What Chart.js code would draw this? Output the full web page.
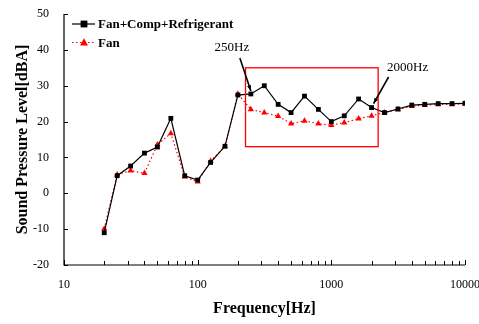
<!DOCTYPE html>
<html>
<head>
<meta charset="utf-8">
<script src="https://cdn.jsdelivr.net/npm/chart.js@4/dist/chart.umd.min.js"></script>
<style>
  html, body { margin: 0; padding: 0; background: #fff; }
  #wrap { width: 479px; height: 324px; }
</style>
</head>
<body>
<div id="wrap"><canvas id="spl"></canvas></div>
<script>
// 1/3 octave band centre frequencies [Hz]
const freqs = [20, 25, 31.5, 40, 50, 63, 80, 100, 125, 160, 200, 250, 315, 400, 500,
               630, 800, 1000, 1250, 1600, 2000, 2500, 3150, 4000, 5000, 6300, 8000, 10000];
// sound pressure level [dBA]
const totalSpl = [-11.0, 4.9, 7.6, 11.2, 12.9, 20.9, 4.9, 3.7, 8.6, 13.1, 27.4, 27.7, 30.0, 24.8, 22.5,
                  27.1, 23.4, 20.0, 21.6, 26.3, 23.9, 22.5, 23.5, 24.6, 24.8, 25.0, 25.0, 25.1];
const fanSpl = [-9.9, 5.2, 6.3, 5.6, 13.6, 16.7, 4.6, 3.2, 9.0, 13.1, 27.7, 23.4, 22.5, 21.5, 19.4,
                20.2, 19.4, 19.0, 19.7, 20.8, 21.6, 22.5, 23.4, 24.3, 24.6, 24.8, 24.8, 25.0];
const seriesNames = ['Fan+Comp+Refrigerant', 'Fan'];
const yTicks = [-20, -10, 0, 10, 20, 30, 40, 50];

// highlighted band (data units) and the two callouts
const bandBox = { xMin: 228, xMax: 2240, yMin: 13, yMax: 35 };
const callouts = [
  { text: '250Hz', freq: 250 },
  { text: '2000Hz', freq: 2000 }
];

const FONT = '"Liberation Serif", "Times New Roman", serif';

function toPoints(ys) {
  return freqs.map((f, i) => ({ x: f, y: ys[i] }));
}

// draws the inside tick marks, axis lines, legend and annotations
const decorPlugin = {
  id: 'decor',
  afterDatasetsDraw(chart) {
    const ctx = chart.ctx;
    const xs = chart.scales.x, ys = chart.scales.y;
    const area = chart.chartArea;
    ctx.save();

    // band rectangle
    const bx1 = xs.getPixelForValue(bandBox.xMin), bx2 = xs.getPixelForValue(bandBox.xMax);
    const by1 = ys.getPixelForValue(bandBox.yMax), by2 = ys.getPixelForValue(bandBox.yMin);
    ctx.strokeStyle = '#ff0000';
    ctx.lineWidth = 1.3;
    ctx.strokeRect(bx1, by1, bx2 - bx1, by2 - by1);

    // callouts pointing at the total-level curve
    ctx.fillStyle = '#000';
    ctx.strokeStyle = '#000';
    ctx.font = '13px ' + FONT;
    ctx.textAlign = 'center';
    ctx.textBaseline = 'middle';
    callouts.forEach((c, idx) => {
      const i = freqs.indexOf(c.freq);
      const px = xs.getPixelForValue(c.freq);
      const py = ys.getPixelForValue(totalSpl[i]);
      let tx, ty, hx, hy;
      if (idx === 0) {
        ctx.fillText(c.text, px - 19, 48);
        tx = px - 11; ty = 58; hx = px; hy = py - 3;
      } else {
        ctx.fillText(c.text, px + 36, 68);
        tx = px + 17; ty = 77; hx = px + 2; hy = py - 4;
      }
      ctx.lineWidth = 1.6;
      ctx.beginPath();
      ctx.moveTo(tx, ty);
      ctx.lineTo(hx, hy);
      ctx.stroke();
      // arrow head
      const ang = Math.atan2(hy - ty, hx - tx);
      ctx.beginPath();
      ctx.moveTo(hx, hy);
      ctx.lineTo(hx - 6 * Math.cos(ang - 0.35), hy - 6 * Math.sin(ang - 0.35));
      ctx.lineTo(hx - 6 * Math.cos(ang + 0.35), hy - 6 * Math.sin(ang + 0.35));
      ctx.closePath();
      ctx.fill();
    });

    // axis lines
    ctx.strokeStyle = '#000';
    ctx.lineWidth = 1.2;
    ctx.beginPath();
    ctx.moveTo(area.left, area.top);
    ctx.lineTo(area.left, area.bottom);
    ctx.lineTo(area.right, area.bottom);
    ctx.stroke();

    // inside ticks
    ctx.lineWidth = 1;
    ctx.beginPath();
    yTicks.forEach(v => {
      const y = Math.round(ys.getPixelForValue(v)) + 0.5;
      ctx.moveTo(area.left, y);
      ctx.lineTo(area.left + 4, y);
    });
    xs.ticks.forEach(t => {
      const x = Math.round(xs.getPixelForValue(t.value)) + 0.5;
      const major = Math.abs(Math.log10(t.value) % 1) < 1e-9;
      ctx.moveTo(x, area.bottom);
      ctx.lineTo(x, area.bottom - (major ? 5 : 4));
    });
    ctx.stroke();

    // legend
    ctx.font = 'bold 13px ' + FONT;
    ctx.textAlign = 'left';
    ctx.textBaseline = 'middle';
    chart.data.datasets.forEach((ds, i) => {
      const y = 24 + i * 18.5;
      ctx.strokeStyle = ds.borderColor;
      ctx.lineWidth = ds.borderWidth;
      ctx.setLineDash(ds.borderDash || []);
      ctx.beginPath();
      ctx.moveTo(72, y);
      ctx.lineTo(95, y);
      ctx.stroke();
      ctx.setLineDash([]);
      drawMarker(ctx, ds.pointStyle, 84, y, ds.pointRadius, ds.pointBackgroundColor);
      ctx.fillStyle = '#000';
      ctx.fillText(ds.label, 98, y + 1);
    });
    ctx.restore();
  }
};

function drawMarker(ctx, style, x, y, r, color) {
  ctx.fillStyle = color;
  ctx.beginPath();
  if (style === 'rect') {
    ctx.rect(x - r, y - r, 2 * r, 2 * r);
  } else {
    ctx.moveTo(x, y - r * 1.2);
    ctx.lineTo(x + r * 1.1, y + r * 0.8);
    ctx.lineTo(x - r * 1.1, y + r * 0.8);
    ctx.closePath();
  }
  ctx.fill();
}

new Chart(document.getElementById('spl'), {
  type: 'line',
  data: {
    datasets: [
      {
        label: seriesNames[0],
        data: toPoints(totalSpl),
        borderColor: '#000',
        borderWidth: 1.2,
        pointStyle: 'rect',
        pointRadius: 3.4,
        pointBackgroundColor: '#000',
        pointBorderColor: '#000',
        pointBorderWidth: 0,
        tension: 0
      },
      {
        label: seriesNames[1],
        data: toPoints(fanSpl),
        borderColor: '#ff0000',
        borderWidth: 1.2,
        borderDash: [1.5, 2.5],
        pointStyle: 'triangle',
        pointRadius: 3.6,
        pointBackgroundColor: '#ff0000',
        pointBorderColor: '#ff0000',
        pointBorderWidth: 0,
        tension: 0
      }
    ]
  },
  options: {
    responsive: true,
    maintainAspectRatio: false,
    animation: false,
    devicePixelRatio: 1,
    layout: { padding: { top: 14, right: 14, left: 0, bottom: 0 } },
    plugins: { legend: { display: false }, tooltip: { enabled: false } },
    scales: {
      x: {
        type: 'logarithmic',
        min: 10,
        max: 10000,
        grid: { display: false },
        border: { display: false },
        afterBuildTicks(scale) {
          const t = [];
          for (let d = 10; d < 10000; d *= 10) {
            for (let k = 1; k < 10; k++) t.push({ value: k * d });
          }
          t.push({ value: 10000 });
          scale.ticks = t;
        },
        afterFit(scale) {
          scale.height = 59;
          scale.paddingLeft = 0;
          scale.paddingRight = 0;
        },
        ticks: {
          autoSkip: false,
          maxRotation: 0,
          padding: 5,
          color: '#000',
          font: { family: FONT, size: 12 },
          callback: v => (Math.abs(Math.log10(v) % 1) < 1e-9 ? String(v) : '')
        },
        title: {
          display: true,
          text: 'Frequency[Hz]',
          color: '#000',
          font: { family: FONT, size: 16, weight: 'bold' },
          padding: { top: 0, bottom: 6 }
        }
      },
      y: {
        min: -20,
        max: 50,
        grid: { display: false },
        border: { display: false },
        afterBuildTicks(scale) {
          scale.ticks = yTicks.map(v => ({ value: v }));
        },
        afterFit(scale) {
          scale.width = 64;
          scale.paddingTop = 0;
          scale.paddingBottom = 0;
        },
        ticks: {
          padding: 7,
          color: '#000',
          font: { family: FONT, size: 12 }
        },
        title: {
          display: true,
          text: 'Sound Pressure Level[dBA]',
          color: '#000',
          font: { family: FONT, size: 16, weight: 'bold' },
          padding: { top: 13, bottom: 0 }
        }
      }
    }
  },
  plugins: [decorPlugin]
});
</script>
</body>
</html>
